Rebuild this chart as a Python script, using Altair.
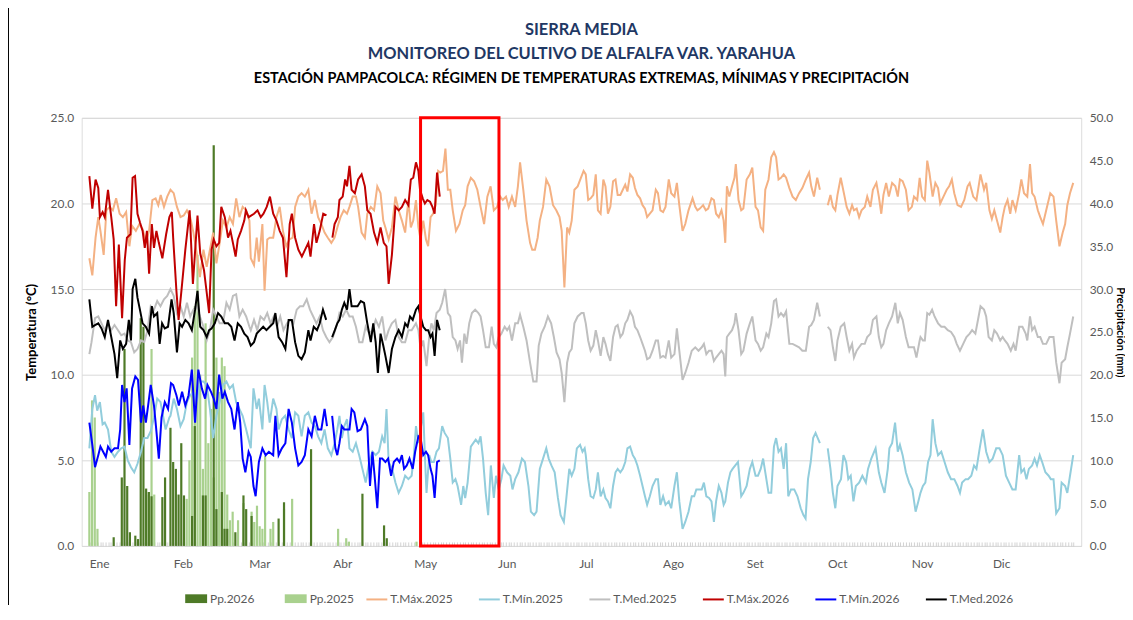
import altair as alt
import pandas as pd

# ---------------- data ----------------
MONTHS = ["Ene", "Feb", "Mar", "Abr", "May", "Jun", "Jul", "Ago", "Set", "Oct", "Nov", "Dic"]
MONTH_START_DAY = [0, 31, 59, 90, 120, 151, 181, 212, 243, 273, 304, 334]

# [day of year (0 = 1 Ene), value]; None marks a gap in the record
TMAX_2026 = [[0.0,21.6],[1.1,19.7],[2.3,21.4],[3.3,20.9],[3.9,19.2],[4.9,19.5],[5.7,19.2],[6.9,20.8],[8.1,19.2],[9.0,17.9],[9.9,14.0],[10.9,17.6],[12.1,13.3],[13.1,16.7],[13.9,18.0],[15.2,18.2],[16.0,21.5],[16.9,21.6],[17.8,19.4],[18.7,18.9],[19.7,18.4],[20.5,17.4],[21.3,18.4],[22.1,15.9],[23.1,18.8],[23.9,17.4],[24.8,18.4],[25.7,17.7],[27.0,16.8],[28.4,18.2],[29.6,19.2],[30.5,19.5],[31.0,18.0],[32.2,14.9],[33.0,13.2],[34.3,15.3],[35.5,17.3],[37.1,19.6],[38.3,15.3],[40.0,19.3],[41.0,17.1],[42.4,16.1],[43.4,14.8],[44.3,13.6],[45.2,17.3],[46.0,17.9],[47.0,17.5],[48.0,17.7],[48.8,19.8],[50.1,19.2],[51.3,18.0],[52.2,18.4],[53.1,17.7],[54.1,16.9],[54.9,17.9],[56.1,18.4],[57.3,19.0],[57.9,19.6],[58.9,19.2],[60.9,19.4],[62.2,19.6],[63.4,19.2],[64.4,19.4],[65.6,19.8],[66.8,20.4],[68.0,19.4],[69.2,19.0],[70.4,18.4],[71.6,18.0],[72.9,15.7],[74.1,18.8],[74.9,19.4],[76.1,18.0],[77.3,17.3],[78.6,16.9],[79.8,17.3],[81.0,17.7],[81.8,16.9],[83.1,18.8],[84.0,17.7],[85.2,18.4],[86.5,19.4],[87.7,19.3],[88.8,None],[89.9,18.0],[90.7,18.8],[91.9,19.2],[92.5,20.2],[93.7,20.4],[94.6,21.4],[95.3,21.0],[96.2,22.2],[97.0,20.8],[98.2,20.6],[99.4,21.4],[100.7,21.7],[101.9,21.0],[102.8,19.6],[104.0,19.4],[105.3,18.3],[106.5,17.7],[107.7,18.6],[108.9,17.7],[109.9,17.5],[110.7,15.3],[111.9,17.0],[113.2,19.8],[114.4,19.6],[115.6,19.8],[116.8,20.2],[118.0,19.9],[118.9,21.4],[119.8,21.5],[120.8,22.4],[121.7,21.9],[122.3,20.8],[123.3,20.3],[124.1,20.0],[125.0,20.2],[126.0,20.1],[126.9,19.8],[127.7,19.4],[128.6,21.8],[129.6,20.4]]

TMED_2026 = [[0.0,14.4],[1.1,12.8],[2.1,12.9],[3.3,13.0],[4.5,12.7],[5.7,12.2],[6.9,13.2],[8.1,12.2],[9.3,11.2],[10.3,9.8],[11.4,12.0],[12.4,11.5],[13.6,11.8],[14.6,13.2],[15.4,12.0],[16.0,15.0],[17.0,15.6],[17.8,14.5],[18.7,13.8],[19.7,13.0],[20.9,12.8],[22.1,12.4],[23.1,14.0],[23.9,13.4],[25.1,13.6],[26.0,11.8],[26.9,13.0],[27.9,12.7],[29.1,12.8],[30.4,14.4],[31.2,13.6],[32.4,11.3],[33.4,13.0],[34.3,12.8],[35.5,13.2],[36.7,13.0],[37.9,12.6],[39.1,13.8],[40.0,14.9],[41.0,12.8],[42.2,12.6],[43.4,12.2],[44.3,12.6],[45.2,12.7],[46.4,13.0],[47.6,13.6],[48.8,13.4],[50.1,13.0],[51.3,13.0],[52.5,12.8],[53.7,12.0],[54.9,13.0],[56.1,12.8],[57.3,12.4],[58.5,12.2],[59.7,11.7],[60.9,11.9],[61.9,12.4],[63.1,12.6],[64.3,12.8],[65.5,12.6],[66.7,12.8],[68.0,13.0],[68.8,13.6],[70.0,12.2],[71.3,11.9],[72.5,11.5],[73.7,13.2],[74.9,13.2],[76.1,11.9],[77.3,11.1],[78.5,10.9],[79.7,11.3],[81.0,12.6],[81.8,12.0],[83.0,12.8],[84.2,12.6],[85.2,13.0],[86.4,13.8],[87.6,13.2],[88.8,None],[89.8,12.2],[90.8,12.6],[91.7,13.0],[92.5,13.2],[93.4,13.8],[94.3,14.2],[95.3,13.8],[96.2,15.0],[97.0,14.0],[98.0,14.0],[99.2,14.0],[100.4,14.3],[101.6,14.2],[102.8,13.0],[104.1,11.9],[105.0,13.0],[105.9,11.9],[106.7,10.1],[107.7,12.4],[108.7,11.7],[109.5,11.1],[110.7,10.1],[111.9,11.5],[113.2,12.2],[114.4,12.6],[115.6,12.2],[116.8,13.0],[117.7,12.8],[118.6,13.4],[119.6,13.2],[120.8,13.8],[121.7,14.0],[122.5,13.4],[123.5,12.8],[124.5,12.6],[125.3,12.6],[126.2,12.2],[126.9,12.4],[127.7,11.1],[128.6,13.2],[129.6,12.6]]

TMIN_2026 = [[0.0,7.2],[1.1,5.9],[2.1,4.6],[3.3,5.3],[4.1,5.8],[5.1,5.5],[6.1,5.2],[6.9,5.8],[8.1,5.5],[9.3,5.7],[10.6,5.7],[11.4,6.8],[12.1,9.4],[13.0,8.4],[13.8,9.2],[14.8,5.9],[15.8,9.2],[17.0,9.9],[18.0,9.7],[19.1,7.2],[19.9,8.2],[20.9,7.2],[21.9,8.4],[22.7,9.4],[23.9,8.2],[24.8,6.7],[25.7,5.1],[26.7,7.5],[27.9,8.4],[29.1,8.0],[30.2,9.5],[31.0,9.4],[32.2,8.8],[33.1,8.2],[34.3,9.0],[35.5,8.2],[36.7,8.8],[37.9,10.3],[39.1,7.2],[40.3,10.3],[41.6,9.2],[42.8,8.6],[43.7,9.4],[45.0,9.0],[46.0,8.6],[47.0,8.0],[48.0,10.0],[49.2,8.6],[50.1,9.0],[51.3,8.4],[52.5,8.0],[53.7,6.8],[54.9,8.4],[55.8,7.2],[56.7,5.1],[57.7,4.3],[58.9,5.5],[59.7,5.2],[60.7,3.5],[61.5,2.9],[62.7,4.9],[64.0,5.7],[65.2,5.3],[66.4,5.5],[68.0,5.3],[68.8,7.6],[70.0,5.3],[71.2,5.7],[72.5,6.0],[73.7,8.0],[74.9,7.2],[76.1,5.7],[77.3,4.7],[78.5,4.9],[79.7,5.3],[81.0,6.8],[82.2,6.4],[83.4,7.6],[84.6,6.8],[85.8,6.8],[87.0,8.0],[87.9,7.0],[88.8,None],[89.8,7.6],[91.0,5.7],[91.7,5.3],[92.5,6.0],[93.4,7.0],[94.3,6.8],[95.3,6.8],[96.2,6.8],[97.0,8.0],[98.0,7.8],[99.2,6.7],[100.4,6.8],[101.9,7.4],[102.8,7.0],[103.8,3.5],[104.7,5.5],[105.5,4.1],[106.5,2.2],[107.5,5.1],[108.3,5.1],[109.5,4.9],[110.5,5.1],[111.6,4.1],[112.6,4.9],[113.8,5.1],[114.7,4.9],[115.6,5.3],[116.4,4.5],[117.4,4.7],[118.4,5.1],[119.6,4.5],[120.5,5.5],[121.7,6.4],[122.5,6.3],[123.5,5.3],[124.5,5.5],[125.3,5.3],[126.2,4.5],[126.9,4.1],[127.7,2.8],[128.6,4.9],[129.6,5.0]]

TMAX_2025 = [[0.0,16.8],[1.1,15.8],[2.3,18.0],[3.3,19.2],[4.1,18.4],[5.3,17.0],[6.3,19.6],[7.5,19.8],[8.7,19.6],[9.9,20.3],[11.2,19.4],[12.4,19.2],[13.6,19.5],[14.8,17.5],[15.8,18.7],[17.2,18.4],[18.5,18.8],[19.7,18.5],[20.9,17.8],[22.1,18.4],[23.3,20.2],[24.5,20.3],[25.5,19.9],[26.4,20.5],[27.6,19.8],[28.8,20.4],[30.0,20.8],[31.2,20.6],[32.4,19.8],[33.7,19.2],[34.9,19.3],[36.1,19.6],[37.3,19.2],[38.5,18.3],[39.7,17.1],[40.9,15.7],[42.2,17.3],[43.4,16.3],[44.6,17.3],[45.8,18.3],[47.0,16.5],[48.2,17.7],[49.4,19.0],[50.7,18.6],[51.9,19.2],[53.1,18.8],[54.3,20.3],[55.5,19.2],[56.7,19.8],[58.0,19.6],[59.2,19.0],[59.7,16.8],[60.9,16.4],[61.9,18.0],[62.7,16.6],[64.0,18.8],[64.8,14.9],[65.8,17.9],[66.7,18.0],[68.0,18.0],[69.2,19.2],[70.4,19.8],[71.6,18.4],[72.8,17.5],[74.0,17.9],[75.2,18.0],[76.1,19.8],[77.3,20.4],[78.5,20.6],[79.7,20.4],[81.0,20.8],[82.2,19.4],[83.4,20.2],[84.6,19.2],[85.8,18.8],[87.0,18.3],[88.2,18.0],[89.5,17.7],[90.7,18.0],[91.9,18.7],[92.9,19.2],[94.1,19.6],[95.3,19.4],[96.2,19.8],[97.4,20.4],[98.6,20.4],[99.4,19.8],[100.7,18.3],[101.9,18.0],[102.8,19.4],[104.1,19.8],[105.3,19.6],[106.5,21.0],[107.7,20.6],[108.7,19.0],[109.5,18.6],[110.7,17.9],[111.9,18.6],[113.2,20.4],[114.4,19.6],[115.6,19.0],[116.8,18.3],[118.0,20.2],[118.9,18.6],[119.8,19.0],[120.8,20.2],[121.7,18.6],[122.5,17.9],[123.5,19.0],[124.5,17.9],[125.3,17.5],[126.2,19.2],[127.1,19.4],[128.1,19.9],[129.0,21.9],[129.8,21.8],[130.8,21.9],[131.7,23.2],[132.6,20.8],[133.5,20.8],[134.4,19.6],[135.6,18.4],[136.9,18.8],[138.1,19.6],[139.0,19.9],[139.9,21.0],[141.1,21.5],[142.3,21.3],[143.5,20.8],[144.7,19.8],[146.0,18.8],[147.2,20.4],[148.4,21.0],[149.6,19.6],[150.8,19.8],[152.0,20.4],[152.9,20.2],[154.1,20.4],[155.1,19.8],[156.3,20.4],[157.5,19.8],[158.5,21.0],[159.3,22.4],[160.5,20.8],[161.7,19.0],[163.0,17.7],[163.8,17.3],[164.8,17.3],[165.8,18.0],[166.6,19.0],[167.8,19.8],[169.0,21.4],[170.2,21.0],[171.5,19.9],[172.7,19.6],[173.9,19.2],[174.7,18.4],[175.7,15.1],[176.7,18.6],[177.5,18.3],[178.4,19.0],[179.4,20.8],[180.6,21.0],[181.8,21.5],[182.8,21.9],[183.6,21.7],[184.5,20.2],[185.4,20.3],[186.4,20.5],[187.3,21.7],[188.1,19.6],[189.1,19.4],[190.1,21.4],[190.9,21.0],[191.8,19.4],[192.7,19.8],[193.7,21.3],[194.6,21.4],[195.4,20.5],[196.4,20.5],[197.3,20.8],[198.2,21.1],[199.0,20.7],[200.0,21.7],[201.0,21.5],[201.8,20.9],[202.7,20.5],[203.7,20.3],[204.6,19.9],[205.5,19.7],[206.3,19.2],[207.3,19.4],[208.3,19.6],[209.5,20.8],[210.3,20.6],[211.2,19.6],[212.2,19.5],[213.1,19.8],[214.3,21.4],[215.2,20.6],[216.4,20.4],[217.3,21.2],[218.2,19.9],[219.4,18.4],[220.4,18.8],[221.6,19.6],[223.1,20.3],[224.1,19.8],[224.9,19.6],[225.8,19.7],[227.0,19.9],[228.0,19.6],[228.9,19.7],[230.1,20.3],[231.0,20.2],[231.8,19.4],[232.8,19.2],[233.8,19.6],[234.6,19.0],[235.2,17.7],[235.8,21.0],[236.7,20.4],[237.7,21.0],[238.6,21.5],[239.1,22.3],[240.1,20.2],[241.1,19.6],[241.9,19.7],[243.1,21.4],[244.3,21.7],[245.2,22.1],[246.4,19.8],[247.3,19.6],[248.3,18.6],[249.2,18.4],[250.0,20.8],[251.2,21.4],[252.2,22.7],[253.2,23.0],[254.0,22.7],[254.9,21.4],[255.8,21.5],[256.8,21.7],[257.7,21.5],[258.9,20.9],[260.1,20.4],[261.3,20.2],[262.5,20.6],[263.7,20.9],[265.0,21.4],[266.2,21.8],[267.0,21.0],[268.0,20.4],[269.2,21.5],[270.2,20.8],[271.5,None],[273.1,19.9],[274.1,20.5],[275.0,19.8],[275.9,19.6],[276.7,20.5],[277.9,21.5],[279.2,20.5],[280.1,19.8],[281.1,19.4],[282.1,19.9],[282.8,19.6],[283.8,19.7],[284.7,19.2],[285.6,19.6],[286.8,19.8],[287.7,20.4],[288.9,19.8],[289.8,20.8],[291.1,21.2],[292.0,20.4],[292.9,19.4],[293.7,20.5],[294.7,21.2],[295.7,20.4],[296.9,21.2],[298.1,21.0],[299.0,20.4],[299.8,21.4],[300.8,21.3],[302.0,20.8],[303.0,19.6],[304.2,19.8],[305.0,20.4],[306.2,20.2],[307.1,21.5],[308.0,20.4],[309.0,20.2],[309.9,22.5],[310.7,21.8],[311.9,20.4],[312.9,21.2],[313.9,20.9],[314.7,20.0],[315.9,20.4],[317.1,20.8],[318.0,21.0],[319.0,21.4],[319.9,20.6],[321.1,19.9],[322.4,19.8],[323.6,20.2],[324.8,21.0],[325.6,21.2],[326.9,20.4],[328.1,20.2],[329.6,21.7],[330.9,20.8],[331.7,21.2],[332.9,19.6],[333.8,19.1],[334.7,19.6],[335.7,19.0],[336.9,18.3],[337.8,19.2],[338.6,19.8],[339.6,20.2],[340.6,19.4],[341.4,20.2],[342.6,19.6],[343.9,20.6],[344.7,21.4],[345.7,20.6],[346.9,20.4],[347.9,22.3],[348.7,20.6],[349.6,20.4],[350.8,19.6],[351.7,19.2],[352.7,18.8],[353.9,19.6],[355.4,20.6],[356.6,20.4],[357.6,19.0],[358.8,17.5],[360.0,18.3],[360.9,18.8],[361.7,19.9],[362.7,20.6],[363.9,21.2]]

TMED_2025 = [[0.0,11.2],[0.8,11.9],[2.1,13.3],[3.3,13.4],[4.5,13.0],[5.7,12.6],[6.9,13.0],[8.1,12.6],[9.3,12.9],[10.6,12.6],[11.8,12.3],[13.0,12.4],[14.2,12.0],[15.4,11.9],[16.6,11.3],[17.8,11.5],[19.1,12.0],[20.3,11.9],[21.5,12.6],[22.7,14.0],[23.9,13.8],[25.1,14.3],[26.3,14.0],[27.6,14.4],[28.8,14.6],[30.0,15.0],[31.2,14.6],[32.4,13.6],[33.7,14.0],[34.9,13.4],[36.1,14.2],[37.3,13.4],[38.5,13.8],[39.7,14.0],[40.9,13.4],[42.2,12.8],[43.4,12.0],[44.6,12.6],[45.8,13.8],[47.0,13.4],[48.2,13.0],[49.4,13.0],[50.7,14.2],[51.9,13.8],[53.1,14.6],[54.3,14.7],[55.5,13.4],[56.7,13.8],[58.0,13.4],[59.2,12.8],[59.7,12.6],[60.9,13.2],[62.1,12.6],[63.3,13.4],[64.6,13.2],[65.8,13.6],[67.0,13.0],[68.2,13.4],[69.4,12.8],[70.6,13.4],[71.8,12.6],[73.1,13.0],[74.3,13.2],[75.5,13.0],[76.7,13.8],[77.9,14.0],[79.1,14.0],[80.4,14.4],[81.6,13.8],[82.8,13.4],[84.0,13.0],[85.2,13.4],[86.4,12.6],[87.6,12.2],[88.8,11.9],[90.1,12.2],[91.7,13.0],[92.5,13.6],[93.7,13.4],[95.0,13.8],[96.2,13.4],[97.4,13.4],[98.6,12.8],[99.8,11.9],[101.0,11.9],[102.2,12.8],[103.5,12.4],[104.7,12.6],[105.9,13.2],[107.1,12.8],[108.3,13.4],[109.5,12.0],[110.7,12.6],[111.9,13.0],[113.2,13.2],[114.4,12.2],[115.6,11.9],[116.8,11.9],[118.0,12.6],[119.2,12.6],[120.8,13.0],[121.7,12.6],[122.5,11.5],[123.5,12.0],[124.7,10.5],[125.7,12.2],[126.5,13.0],[127.4,12.6],[128.4,13.6],[129.6,13.8],[130.5,14.2],[131.6,15.0],[132.6,13.6],[133.5,13.4],[134.4,12.2],[135.4,12.0],[136.2,11.5],[137.1,12.0],[137.8,10.7],[138.7,12.4],[139.5,11.8],[140.5,13.0],[141.5,13.6],[142.7,13.8],[143.9,13.6],[144.7,13.4],[145.6,12.6],[146.6,11.6],[147.8,11.6],[148.8,12.8],[149.6,11.8],[150.5,11.6],[151.4,12.2],[152.4,12.4],[153.6,12.8],[154.5,12.6],[155.3,12.8],[156.3,12.0],[157.5,13.0],[158.5,13.0],[159.3,13.5],[160.5,12.8],[161.7,12.0],[163.0,10.7],[164.2,9.6],[165.4,9.6],[166.2,11.7],[167.2,12.4],[168.4,12.8],[169.6,13.4],[170.8,13.0],[171.8,12.2],[172.8,11.3],[173.9,10.9],[174.7,10.1],[175.7,8.4],[176.7,10.7],[177.5,11.3],[178.4,11.5],[179.4,13.0],[180.6,13.4],[182.0,13.6],[182.8,13.6],[183.6,13.0],[184.5,12.0],[185.4,11.4],[186.4,11.7],[187.3,12.6],[188.1,12.0],[189.1,11.1],[190.1,12.2],[190.9,11.8],[191.8,11.2],[192.7,10.8],[193.7,12.2],[194.6,12.8],[195.4,12.9],[196.4,12.2],[197.3,12.4],[198.2,13.0],[199.0,13.2],[200.0,13.7],[201.0,13.4],[201.8,12.8],[202.7,12.6],[203.7,12.2],[204.6,11.8],[205.5,11.4],[206.3,10.9],[207.3,11.0],[208.3,11.4],[209.5,12.0],[210.3,12.0],[211.2,11.0],[212.2,11.1],[213.1,11.0],[214.3,12.0],[215.2,11.0],[216.4,11.2],[217.3,12.7],[218.2,11.4],[219.4,9.7],[220.4,10.1],[221.6,10.7],[222.8,11.4],[224.1,11.6],[225.3,11.4],[226.5,11.6],[227.3,11.8],[228.2,11.2],[229.2,11.4],[230.1,11.4],[231.0,10.8],[231.8,11.0],[232.8,11.2],[233.8,11.4],[234.6,11.2],[235.2,9.9],[235.8,12.2],[236.7,12.4],[237.7,12.6],[238.6,13.0],[239.1,13.6],[240.1,12.6],[241.1,11.2],[241.9,11.4],[243.1,12.4],[244.3,13.0],[245.2,13.4],[246.4,12.0],[247.3,11.8],[248.3,11.4],[249.2,11.6],[250.4,12.4],[251.2,12.2],[252.2,13.0],[253.2,14.3],[254.0,14.4],[254.9,13.4],[255.8,13.6],[256.8,13.4],[257.7,13.7],[258.9,11.8],[260.1,11.8],[261.3,11.7],[262.5,11.6],[263.7,11.4],[265.0,11.4],[266.2,12.8],[267.0,12.9],[268.0,13.2],[269.2,14.2],[270.2,13.4],[271.5,None],[273.1,12.8],[274.1,12.6],[275.0,11.6],[275.9,10.8],[276.7,12.0],[277.9,12.8],[279.2,13.0],[280.1,12.2],[281.1,11.4],[282.1,11.8],[282.8,11.0],[283.8,11.4],[284.7,11.6],[285.6,11.8],[286.8,11.8],[287.7,12.2],[288.9,12.4],[289.8,13.2],[291.1,13.4],[292.0,12.2],[292.9,11.6],[293.7,11.8],[294.7,12.6],[295.7,13.0],[296.9,13.4],[298.1,14.2],[299.0,13.0],[299.8,13.6],[300.8,13.2],[302.0,12.2],[303.0,11.6],[304.2,11.6],[305.0,11.6],[305.9,11.0],[307.1,12.0],[307.4,12.2],[308.3,12.0],[309.0,12.0],[309.9,13.6],[310.7,13.5],[311.7,13.8],[312.6,13.4],[313.9,13.0],[315.1,12.8],[316.3,12.8],[317.5,12.6],[318.7,12.5],[319.9,12.2],[320.8,11.8],[322.0,11.4],[323.2,11.8],[324.4,12.2],[325.6,12.4],[326.5,12.6],[327.7,12.4],[328.9,13.4],[329.6,14.0],[330.9,13.8],[331.7,13.4],[332.6,12.2],[333.8,12.0],[334.7,12.6],[335.7,12.4],[336.9,12.0],[337.8,12.2],[338.6,12.0],[339.6,11.8],[340.8,11.4],[341.8,11.8],[342.6,11.4],[343.9,12.8],[345.1,12.8],[346.3,12.4],[346.9,12.0],[347.9,13.4],[348.7,12.6],[349.6,12.8],[350.8,12.2],[351.7,12.2],[352.7,11.8],[353.9,11.8],[355.1,12.2],[356.6,12.2],[357.6,10.7],[358.8,9.5],[359.6,10.7],[360.9,10.9],[361.7,11.6],[362.7,12.4],[363.9,13.4]]

TMIN_2025 = [[0.0,5.7],[1.1,8.0],[2.1,8.8],[2.9,7.9],[3.9,8.4],[4.9,7.1],[5.7,7.2],[6.9,6.8],[8.1,5.5],[9.3,5.2],[10.6,5.5],[11.8,5.7],[13.0,5.8],[14.2,5.0],[15.4,4.6],[16.6,4.3],[17.8,4.8],[19.1,5.5],[20.3,6.3],[21.5,6.3],[22.7,6.7],[23.9,7.5],[25.1,8.6],[26.3,8.4],[28.2,6.8],[29.6,7.5],[30.0,7.6],[31.2,8.6],[32.4,8.0],[33.7,7.0],[34.9,7.4],[36.1,8.4],[37.3,8.8],[38.5,9.0],[39.7,8.4],[40.9,9.6],[42.2,9.6],[43.4,9.4],[44.6,8.0],[45.8,6.3],[47.0,7.6],[48.2,8.4],[49.4,9.4],[50.7,9.6],[51.9,9.2],[53.1,9.4],[54.3,8.4],[55.5,8.0],[56.7,7.6],[58.0,6.8],[59.7,5.7],[60.7,9.2],[61.9,8.0],[62.7,8.6],[64.0,6.8],[64.8,9.4],[65.8,8.4],[66.7,7.2],[68.0,8.6],[69.2,8.0],[70.0,6.8],[71.2,7.4],[72.4,7.6],[73.7,6.8],[74.9,6.3],[76.1,7.8],[77.3,7.6],[78.5,6.4],[79.7,7.6],[81.0,7.8],[82.2,7.2],[83.4,7.0],[84.6,6.4],[85.8,6.0],[87.0,6.8],[88.2,5.7],[89.5,5.3],[90.7,6.0],[91.7,6.8],[92.5,7.6],[93.4,6.3],[94.3,7.0],[95.3,7.4],[96.2,5.7],[97.4,5.5],[98.6,6.0],[99.8,5.3],[101.0,4.5],[102.2,3.7],[103.5,4.9],[104.7,5.5],[105.9,5.3],[107.1,5.5],[108.3,6.4],[109.2,6.0],[109.9,8.0],[110.7,4.9],[112.0,4.5],[113.2,3.7],[114.4,3.1],[115.6,3.5],[116.8,4.1],[118.0,3.9],[119.2,4.1],[120.0,5.2],[120.8,7.0],[121.7,6.0],[122.5,6.8],[123.5,7.8],[124.1,5.3],[124.7,3.1],[125.7,5.3],[126.5,4.9],[127.4,4.9],[128.4,5.5],[129.3,5.7],[130.5,7.0],[131.4,6.6],[132.6,6.3],[133.5,5.1],[134.4,3.7],[135.4,3.9],[136.2,3.5],[137.5,2.4],[138.3,3.5],[139.0,2.8],[139.9,3.7],[141.1,5.8],[142.0,6.0],[142.9,6.2],[143.9,6.0],[144.7,6.4],[145.6,5.1],[146.6,3.1],[147.5,1.8],[148.5,4.7],[149.6,2.8],[150.4,4.1],[151.4,3.3],[152.4,3.9],[153.2,4.7],[154.5,4.3],[155.7,4.1],[156.5,3.3],[157.5,3.9],[158.7,4.3],[160.0,5.1],[161.1,4.9],[162.4,3.5],[163.3,2.0],[164.5,1.8],[165.4,2.0],[166.6,4.5],[167.8,5.1],[169.0,5.7],[169.9,5.1],[170.9,4.7],[172.1,4.3],[173.3,2.8],[174.3,1.8],[175.5,1.4],[176.3,2.6],[177.5,4.5],[178.4,4.1],[179.4,4.5],[180.3,5.7],[181.5,5.9],[182.4,5.5],[183.2,5.7],[183.6,5.3],[184.5,3.9],[185.4,2.9],[186.4,2.8],[187.3,3.3],[188.1,4.3],[189.1,2.9],[190.1,3.3],[190.9,2.8],[191.8,2.6],[192.7,2.2],[193.7,3.5],[194.6,4.3],[195.4,4.5],[196.4,4.3],[197.3,4.5],[198.2,4.9],[199.0,5.7],[200.0,5.8],[201.0,5.3],[201.8,5.1],[202.7,4.7],[203.7,4.1],[204.6,3.5],[205.5,2.9],[206.3,2.4],[207.3,2.9],[208.3,3.5],[209.5,3.9],[210.3,3.9],[211.2,2.4],[212.2,2.9],[213.1,2.4],[214.3,2.6],[215.2,2.2],[216.4,3.5],[217.3,4.3],[218.2,2.6],[219.4,1.0],[220.4,1.4],[221.6,2.0],[222.8,2.9],[223.7,2.9],[224.5,3.3],[225.5,3.3],[226.5,3.3],[227.3,3.7],[228.2,2.9],[229.2,2.8],[230.1,2.6],[231.0,1.4],[231.8,2.6],[232.8,3.5],[233.8,3.1],[234.6,2.4],[235.2,2.6],[236.2,3.7],[237.1,4.3],[237.9,4.5],[238.9,4.7],[239.9,4.9],[241.1,2.9],[241.9,3.1],[243.1,3.5],[244.3,4.5],[245.2,4.9],[246.4,4.1],[247.3,4.1],[248.3,4.5],[249.2,5.1],[250.0,4.3],[251.2,3.1],[252.2,3.1],[253.2,5.8],[254.0,6.3],[254.9,5.5],[255.8,5.7],[256.8,4.5],[257.7,6.0],[258.5,2.9],[259.5,3.3],[260.7,3.3],[261.9,2.9],[263.1,2.2],[264.1,1.8],[264.9,1.6],[265.8,3.9],[266.8,4.9],[267.7,6.3],[268.6,6.6],[269.4,6.3],[270.2,6.0],[271.5,None],[273.1,5.7],[274.1,4.5],[275.0,3.1],[275.9,2.2],[276.7,3.5],[278.0,3.9],[278.9,5.3],[279.9,4.9],[280.7,3.9],[281.6,4.1],[282.6,2.6],[283.5,3.5],[284.7,3.7],[285.9,4.1],[287.2,3.7],[288.0,4.5],[289.2,5.1],[290.8,5.7],[292.0,4.3],[292.9,3.7],[294.1,3.1],[295.3,4.5],[295.9,5.7],[296.9,6.0],[298.0,7.2],[299.0,5.5],[299.8,5.9],[300.8,5.3],[302.0,4.3],[303.2,3.7],[304.4,3.3],[305.6,2.0],[306.6,2.6],[307.4,3.1],[308.3,3.5],[309.2,3.7],[310.2,4.9],[311.1,5.3],[311.9,7.4],[312.9,6.0],[313.9,5.3],[315.1,5.5],[316.3,4.9],[317.5,4.3],[318.7,3.9],[319.9,3.9],[321.1,3.5],[322.0,3.1],[322.8,3.7],[324.1,3.9],[325.0,3.9],[326.2,4.1],[327.2,4.7],[328.1,4.5],[329.3,5.7],[330.5,6.8],[331.7,5.5],[332.9,4.9],[334.1,5.1],[335.4,5.7],[336.6,5.7],[337.8,5.3],[339.0,4.1],[340.2,3.7],[341.4,3.3],[342.6,3.3],[343.9,5.3],[344.7,4.3],[345.7,4.5],[346.6,3.9],[347.5,4.5],[348.7,4.7],[349.6,5.1],[350.5,4.7],[351.5,5.3],[352.4,4.9],[353.6,4.3],[354.8,4.1],[355.6,3.9],[356.6,3.9],[357.6,1.9],[358.8,2.2],[359.6,3.7],[360.9,3.5],[361.7,3.1],[362.7,4.1],[363.9,5.3]]

# daily precipitation (mm), only rainy days
PP_2026_DAY = [9, 12, 13, 14, 15, 17, 18, 19, 20, 21, 22, 23, 27, 28, 30, 31, 32, 33, 34, 35, 38, 39, 42, 43, 46, 47, 49, 50, 51, 54, 57, 58, 60, 70, 72, 82, 101, 109, 110]
PP_2026_MM = [1.0, 8.0, 23.0, 7.0, 1.6, 1.2, 0.8, 26.6, 25.6, 6.7, 6.3, 5.8, 5.7, 8.0, 13.8, 9.8, 9.0, 6.0, 12.0, 5.9, 3.5, 14.0, 5.9, 5.9, 46.8, 4.3, 6.3, 2.0, 2.0, 1.6, 5.9, 4.3, 3.5, 3.2, 5.1, 11.3, 6.1, 2.4, 0.9]
PP_2025_DAY = [0, 1, 2, 3, 21, 22, 23, 24, 36, 37, 38, 39, 40, 41, 42, 43, 44, 45, 46, 47, 48, 49, 50, 51, 52, 53, 55, 57, 60, 61, 62, 63, 64, 65, 67, 68, 72, 75, 92, 95, 96, 121]
PP_2025_MM = [6.3, 17.0, 15.0, 2.0, 6.0, 6.3, 23.0, 6.0, 5.5, 10.0, 22.0, 28.0, 34.0, 20.0, 9.0, 26.0, 12.0, 16.0, 8.0, 22.0, 18.0, 22.0, 21.0, 6.0, 3.0, 4.0, 3.0, 5.0, 4.0, 2.8, 4.7, 2.3, 2.0, 10.5, 2.0, 2.8, 4.3, 5.5, 2.0, 0.9, 0.5, 0.5]

HIGHLIGHT = {"dia": 122.5, "dia_fin": 151.5, "valor": 0, "valor_fin": 25}

LINE_NAMES = ["T.Máx.2025", "T.Mín.2025", "T.Med.2025", "T.Máx.2026", "T.Mín.2026", "T.Med.2026"]
LINE_COLORS = ["#F4B183", "#92CDDC", "#BFBFBF", "#C00000", "#0000FF", "#000000"]
BAR_NAMES = ["Pp.2026", "Pp.2025"]
BAR_COLORS = ["#4E7A27", "#A9D18E"]

# ---------------- tables ----------------
def series_rows(name, pairs):
    rows, seg = [], 0
    for d, v in pairs:
        if v is None:
            seg += 1
            continue
        rows.append({"serie": name, "dia": d, "valor": v, "tramo": f"{name}-{seg}"})
    return rows

rows25 = (series_rows("T.Máx.2025", TMAX_2025) + series_rows("T.Mín.2025", TMIN_2025)
          + series_rows("T.Med.2025", TMED_2025))
rows26 = (series_rows("T.Máx.2026", TMAX_2026) + series_rows("T.Mín.2026", TMIN_2026)
          + series_rows("T.Med.2026", TMED_2026))
df25 = pd.DataFrame(rows25)
df26 = pd.DataFrame(rows26)

df_pp = pd.DataFrame(
    [{"serie": "Pp.2025", "dia": d, "pp": v} for d, v in zip(PP_2025_DAY, PP_2025_MM)]
    + [{"serie": "Pp.2026", "dia": d, "pp": v} for d, v in zip(PP_2026_DAY, PP_2026_MM)]
)

# ---------------- encodings ----------------
FONT = "Lato"
label_expr = " : ".join(f"datum.value == {d} ? '{m}'" for d, m in zip(MONTH_START_DAY, MONTHS)) + " : ''"

X_ENC = alt.X(
    "dia:Q",
    scale=alt.Scale(domain=[-1, 365], nice=False, zero=False),
    axis=alt.Axis(
        values=list(range(0, 365)), labelExpr=label_expr, title=None, grid=False,
        domain=False, tickSize=4, tickColor="#C8C8C8", tickWidth=0.8, offset=-4,
        labelAlign="left", labelOverlap=False, labelBound=False, labelFlush=False,
        labelPadding=13, labelColor="#595959", labelFontSize=12, labelFont=FONT,
    ),
)

Y_TEMP = alt.Y(
    "valor:Q",
    scale=alt.Scale(domain=[0, 25], nice=False),
    axis=alt.Axis(
        orient="left", values=[0, 5, 10, 15, 20, 25], format=".1f", grid=True,
        gridColor="#D9D9D9", gridWidth=1, domain=False, ticks=False, labelPadding=8,
        labelColor="#595959", labelFontSize=12, labelFont=FONT,
        title="Temperatura (°C)", titleFont=FONT, titleFontSize=13, titleFontWeight="bold",
        titleColor="#000000", titlePadding=12,
    ),
)

line_legend = alt.Legend(
    orient="none", legendX=285, legendY=472, direction="horizontal", title=None,
    symbolType="stroke", symbolSize=441, symbolStrokeWidth=2, columnPadding=22,
    labelOffset=2, labelFontSize=12, labelColor="#595959", labelFont=FONT, padding=0,
)
bar_legend = alt.Legend(
    orient="none", legendX=104, legendY=472, direction="horizontal", title=None,
    symbolType="M-1,-0.4H1V0.4H-1Z", symbolSize=484, symbolStrokeWidth=0,
    columnPadding=30, labelOffset=3, labelFontSize=12, labelColor="#595959",
    labelFont=FONT, padding=0,
)

line_color = alt.Color("serie:N", scale=alt.Scale(domain=LINE_NAMES, range=LINE_COLORS), legend=line_legend)

lines25 = alt.Chart(df25).mark_line(strokeWidth=2).encode(
    x=X_ENC, y=Y_TEMP, color=line_color, detail="tramo:N"
)
lines26 = alt.Chart(df26).mark_line(strokeWidth=2).encode(
    x=X_ENC, y=Y_TEMP, color=line_color, detail="tramo:N"
)

highlight = alt.Chart(pd.DataFrame([HIGHLIGHT])).mark_rect(
    fillOpacity=0, stroke="#FF0000", strokeWidth=3
).encode(x=X_ENC, x2="dia_fin:Q", y=Y_TEMP, y2="valor_fin:Q")

border = alt.Chart(pd.DataFrame({"k": [0]})).mark_rule(color="#000000", strokeWidth=1).encode(
    x=alt.value(-73.5), y=alt.value(-117), y2=alt.value(510)
)

temp_layer = alt.layer(lines25, lines26, highlight, border)

bars = alt.Chart(df_pp).mark_bar(size=2.2).encode(
    x=X_ENC,
    y=alt.Y(
        "pp:Q",
        stack=None,
        scale=alt.Scale(domain=[0, 50], nice=False),
        axis=alt.Axis(
            orient="right", values=list(range(0, 55, 5)), format=".1f", grid=False,
            domain=False, ticks=False, labelPadding=8, labelColor="#595959",
            labelFontSize=12, labelFont=FONT, title="Precipitación (mm)", titleFont=FONT,
            titleFontSize=11, titleFontWeight="bold", titleColor="#000000", titlePadding=2,
        ),
    ),
    color=alt.Color("serie:N", scale=alt.Scale(domain=BAR_NAMES, range=BAR_COLORS), legend=bar_legend),
)

chart = (
    alt.layer(bars, temp_layer)
    .resolve_scale(y="independent", color="independent")
    .properties(
        width=1004,
        height=430,
        autosize=alt.AutoSizeParams(type="none"),
        padding={"left": 74, "top": 109, "right": 44, "bottom": 58},
        title=alt.Title(
            text=["SIERRA MEDIA", "MONITOREO DEL CULTIVO DE ALFALFA VAR. YARAHUA"],
            subtitle="ESTACIÓN PAMPACOLCA: RÉGIMEN DE TEMPERATURAS EXTREMAS, MÍNIMAS Y PRECIPITACIÓN",
            anchor="middle", frame="group", font=FONT, fontSize=16.5, fontWeight="bold",
            color="#1F3864", lineHeight=24, subtitleFont=FONT, subtitleFontSize=14.5,
            subtitleFontWeight="bold", subtitleColor="#000000", subtitlePadding=10, offset=-85,
        ),
    )
    .configure_view(stroke=None)
    .configure(background="#FFFFFF")
)

chart.save("out.html", embed_options={"renderer": "svg", "actions": False})
